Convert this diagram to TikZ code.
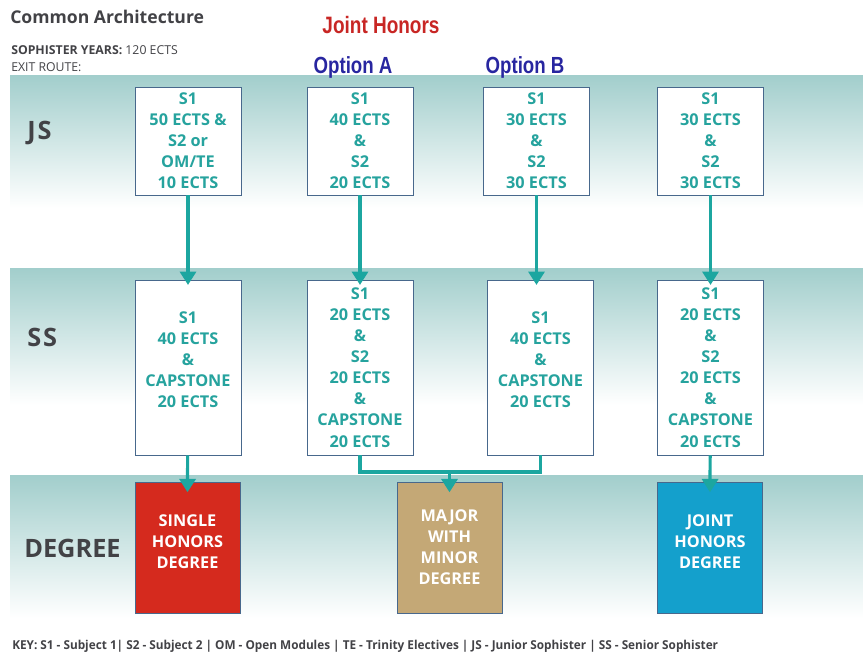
\documentclass[tikz,border=0pt]{standalone}
\usepackage{fontspec}
\setmainfont{Open Sans}
\newfontfamily\narrowfont[FakeStretch=0.8]{Liberation Sans}
\newfontfamily\keyfont[FakeStretch=0.96]{Open Sans}
\newfontfamily\wideboldfont[LetterSpace=8]{Open Sans}
\usepackage{tikz}
\usepackage{xcolor}
\usetikzlibrary{arrows.meta}

\definecolor{bandteal}{RGB}{162,206,204}
\definecolor{texteal}{RGB}{38,163,158}
\definecolor{flowteal}{RGB}{28,166,160}
\definecolor{boxedge}{RGB}{72,104,140}
\definecolor{titlegray}{RGB}{66,66,70}
\definecolor{singlered}{RGB}{213,42,30}
\definecolor{majortan}{RGB}{196,168,118}
\definecolor{jointblue}{RGB}{20,160,204}
\definecolor{honorsred}{RGB}{200,38,36}
\definecolor{optionblue}{RGB}{40,38,160}

\begin{document}
\begin{tikzpicture}[x=0.75pt,y=0.75pt,yscale=-1,xscale=1,
  jsbox/.style={draw=boxedge,fill=white,line width=0.6pt,minimum width=79.5pt,minimum height=81pt,
    inner sep=0pt,align=center,text=texteal,font=\bfseries\fontsize{12.2}{15.8}\selectfont},
  ssbox/.style={jsbox,minimum height=131.25pt},
  degbox/.style={draw=boxedge,line width=0.6pt,minimum width=78.75pt,minimum height=98.25pt,
    inner sep=0pt,align=center,text=white,font=\bfseries\fontsize{12.2}{15.8}\selectfont},
  rowlabel/.style={anchor=west,inner sep=0pt,text=titlegray,font=\bfseries\fontsize{19}{21}\selectfont},
  flow/.style={draw=flowteal,line width=2.4pt},
  flowarrow/.style={flow,-{Triangle[width=12pt,length=10pt]}}]
\useasboundingbox (0,0) rectangle (863,654);

%Shape: Bands
\shade[top color=bandteal,bottom color=white] (10,75) rectangle (863,208);
\shade[top color=bandteal,bottom color=white] (10,268) rectangle (863,405);
\shade[top color=bandteal,bottom color=white] (10,475) rectangle (863,618);

% Text Node
\node[anchor=west,inner sep=0pt,text=titlegray,font=\bfseries\fontsize{13.2}{15}\selectfont] (title) at (10,17) {Common Architecture};
% Text Node
\node[anchor=west,inner sep=0pt,text=titlegray,font=\fontsize{9.2}{11}\selectfont] (years) at (11,50) {\textbf{SOPHISTER YEARS:} 120 ECTS};
% Text Node
\node[anchor=west,inner sep=0pt,text=titlegray,font=\fontsize{9.2}{11}\selectfont] (exit) at (11,67) {EXIT ROUTE:};
% Text Node
\node[inner sep=0pt,text=honorsred,font=\narrowfont\bfseries\fontsize{17.8}{20}\selectfont] (joint) at (381,25) {Joint Honors};
% Text Node
\node[inner sep=0pt,text=optionblue,font=\narrowfont\bfseries\fontsize{17.5}{20}\selectfont] (opta) at (353,67) {Option A};
% Text Node
\node[inner sep=0pt,text=optionblue,font=\narrowfont\bfseries\fontsize{17.5}{20}\selectfont] (optb) at (525,67) {Option B};

% Row labels
\node[rowlabel,font=\wideboldfont\bfseries\fontsize{19}{21}\selectfont] (jslab) at (27,133) {JS};
\node[rowlabel,font=\wideboldfont\bfseries\fontsize{19}{21}\selectfont] (sslab) at (27,337) {SS};
\node[rowlabel] (deglab) at (24,548) {DEGREE};

% Junior Sophister boxes
\node[jsbox] (js1) at (188,141) {S1\\50 ECTS \&\\S2 or\\OM/TE\\10 ECTS};
\node[jsbox] (js2) at (360,141) {S1\\40 ECTS\\\&\\S2\\20 ECTS};
\node[jsbox] (js3) at (536.5,141) {S1\\30 ECTS\\\&\\S2\\30 ECTS};
\node[jsbox] (js4) at (710.5,141) {S1\\30 ECTS\\\&\\S2\\30 ECTS};

% Senior Sophister boxes
\node[ssbox,text depth=12pt] (ss1) at (188,367.5) {S1\\40 ECTS\\\&\\CAPSTONE\\20 ECTS};
\node[ssbox] (ss2) at (360,367.5) {S1\\20 ECTS\\\&\\S2\\20 ECTS\\\&\\CAPSTONE\\20 ECTS};
\node[ssbox,text depth=12pt] (ss3) at (540.5,367.5) {S1\\40 ECTS\\\&\\CAPSTONE\\20 ECTS};
\node[ssbox] (ss4) at (710.5,367.5) {S1\\20 ECTS\\\&\\S2\\20 ECTS\\\&\\CAPSTONE\\20 ECTS};

% Degree boxes
\node[degbox,fill=singlered,text depth=9pt] (single) at (187.5,547.5) {SINGLE\\HONORS\\DEGREE};
\node[degbox,fill=majortan] (major) at (449.5,547.5) {MAJOR\\WITH\\MINOR\\DEGREE};
\node[degbox,fill=jointblue,text depth=9pt] (jointdeg) at (710,547.5) {JOINT\\HONORS\\DEGREE};

% Connectors
\coordinate (merge) at (449.5,472);
\draw[flowarrow] (js1) -- ([yshift=4pt]ss1.north);
\draw[flowarrow] (js2) -- ([yshift=4pt]ss2.north);
\draw[flowarrow] (js3) -- ([yshift=4pt]js3 |- ss3.north);
\draw[flowarrow] (js4) -- ([yshift=4pt]ss4.north);
\draw[flowarrow] (ss1) -- ([yshift=8pt]single.north);
\draw[flow] (ss2.south) |- (merge) -| (ss3.south);
\draw[flowarrow] (merge) -- ([yshift=8pt]major.north);
\draw[flowarrow] (ss4) -- ([yshift=8pt]jointdeg.north);

% Text Node
\node[anchor=west,inner sep=0pt,text=titlegray,font=\keyfont\bfseries\fontsize{9.2}{11}\selectfont] (key) at (12,646) {KEY: S1 - Subject 1| S2 - Subject 2 | OM - Open Modules | TE - Trinity Electives | JS - Junior Sophister | SS - Senior Sophister};
\end{tikzpicture}
\end{document}
